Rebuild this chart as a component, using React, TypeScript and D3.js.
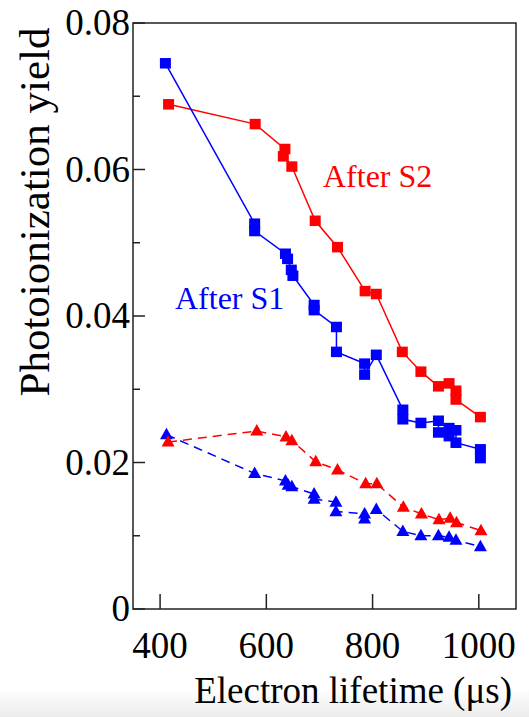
import React from "react";
import * as d3 from "d3";

// ---- data ----
const s1SquareX = [410, 578, 578, 636, 640, 647, 650, 690, 690, 732, 732, 785, 785, 807, 857, 857, 891, 924, 924, 944, 944, 957, 957, 1003, 1003];
const s1SquareY = [0.0745, 0.0526, 0.0516, 0.0485, 0.0478, 0.0463, 0.0455, 0.0415, 0.0408, 0.0385, 0.0351, 0.0335, 0.032, 0.0347, 0.0272, 0.0259, 0.0254, 0.0257, 0.0241, 0.0247, 0.0236, 0.0244, 0.0227, 0.0218, 0.0206];

const s2SquareX = [416, 579, 635, 632, 648, 692, 734, 786, 807, 856, 891, 924, 944, 957, 957, 1003];
const s2SquareY = [0.0689, 0.0662, 0.0628, 0.0618, 0.0604, 0.053, 0.0494, 0.0434, 0.043, 0.0351, 0.0324, 0.0304, 0.0308, 0.0298, 0.0286, 0.0262];

const s1TriX = [412, 578, 636, 641, 648, 690, 690, 731, 731, 785, 785, 807, 857, 891, 924, 944, 957, 1003];
const s1TriY = [0.0238, 0.0185, 0.0175, 0.0169, 0.0167, 0.0157, 0.015, 0.0146, 0.0133, 0.013, 0.0123, 0.0136, 0.0106, 0.01, 0.01, 0.0098, 0.0094, 0.0085];

const s2TriX = [415, 582, 637, 648, 693, 734, 787, 808, 858, 892, 925, 946, 958, 1004];
const s2TriY = [0.0228, 0.0243, 0.0235, 0.023, 0.0201, 0.019, 0.0171, 0.0171, 0.0139, 0.013, 0.0122, 0.0124, 0.0118, 0.0107];

const xTicks = [400, 600, 800, 1000];
const yTicks = [0, 0.02, 0.04, 0.06, 0.08];
const yMinorTicks = [0.01, 0.03, 0.05, 0.07];
const yTickLabels = ["0", "0.02", "0.04", "0.06", "0.08"];

const xTitle = "Electron lifetime (\u03bcs)";
const yTitle = "Photoionization yield";
const labelS2 = "After S2";
const labelS1 = "After S1";

const RED = "#ff0000";
const BLUE = "#0000ff";
const FONT = "'Liberation Serif', 'Times New Roman', serif";

export default function App() {
  const W = 529, H = 717;
  const L = 133, R = 516, T = 23, B = 609;
  const x = d3.scaleLinear().domain([349, 1070]).range([L, R]);
  const y = d3.scaleLinear().domain([0, 0.08]).range([B, T]);

  const zip = (xs: number[], ys: number[]) => xs.map((v, i) => [v, ys[i]] as [number, number]);
  const line = d3.line<[number, number]>().x(d => x(d[0])).y(d => y(d[1]));

  const series = [
    { pts: zip(s1TriX, s1TriY), color: BLUE, shape: "tri", dashed: true },
    { pts: zip(s2TriX, s2TriY), color: RED, shape: "tri", dashed: true },
    { pts: zip(s2SquareX, s2SquareY), color: RED, shape: "sq", dashed: false },
    { pts: zip(s1SquareX, s1SquareY), color: BLUE, shape: "sq", dashed: false },
  ];

  const sqW = 11, sqH = 10.5;
  const triPath = (cx: number, cy: number) => {
    const s = 13;
    const h = 11.5;
    return `M${cx},${cy - h * 0.6} L${cx + s / 2},${cy + h * 0.4} L${cx - s / 2},${cy + h * 0.4} Z`;
  };

  return (
    <svg width={W} height={H} style={{ position: "absolute", left: 0, top: 0, background: "#fff" }}>
      <rect x={0} y={0} width={W} height={H} fill="#fff" />
      <defs>
        <linearGradient id="bot" x1="0" y1="0" x2="0" y2="1">
          <stop offset="0" stopColor="#ffffff" />
          <stop offset="1" stopColor="#ececec" />
        </linearGradient>
      </defs>
      <rect x={0} y={688} width={W} height={H - 688} fill="url(#bot)" />

      {/* lines */}
      {series.map((s, i) => (
        <path key={"l" + i} d={line(s.pts) || ""} fill="none" stroke={s.color} strokeWidth={1.5}
          strokeDasharray={s.dashed ? "9,6" : undefined} />
      ))}
      {/* markers */}
      {series.map((s, i) => (
        <g key={"m" + i} fill={s.color}>
          {s.pts.map((p, j) =>
            s.shape === "sq" ? (
              <rect key={j} x={x(p[0]) - sqW / 2} y={y(p[1]) - sqH / 2} width={sqW} height={sqH} />
            ) : (
              <path key={j} d={triPath(x(p[0]), y(p[1]))} />
            )
          )}
        </g>
      ))}

      {/* frame */}
      <rect x={L} y={T} width={R - L} height={B - T} fill="none" stroke="#222" strokeWidth={1.5} />
      {/* y ticks */}
      {yTicks.map(t => (
        <line key={"yt" + t} x1={L} x2={L + 12} y1={y(t)} y2={y(t)} stroke="#222" strokeWidth={1.5} />
      ))}
      {yMinorTicks.map(t => (
        <line key={"ym" + t} x1={L} x2={L + 7} y1={y(t)} y2={y(t)} stroke="#222" strokeWidth={1.5} />
      ))}
      {/* x ticks */}
      {xTicks.map(t => (
        <line key={"xt" + t} x1={x(t)} x2={x(t)} y1={B} y2={B - 15} stroke="#222" strokeWidth={1.5} />
      ))}

      {/* tick labels */}
      <g fontFamily={FONT} fontSize={37} fill="#000">
        {yTicks.map((t, i) => (
          <text key={"yl" + t} x={L - 3} y={y(t)} dy="0.33em" textAnchor="end">{yTickLabels[i]}</text>
        ))}
        {xTicks.map(t => (
          <text key={"xl" + t} x={x(t)} y={658} textAnchor="middle">{t}</text>
        ))}
        <text x={512} y={703} textAnchor="end">{xTitle}</text>
        <text transform="translate(49,212) rotate(-90)" textAnchor="middle" fontSize={43}>{yTitle}</text>
      </g>

      <text x={323} y={187} fontFamily={FONT} fontSize={32} fill={RED}>{labelS2}</text>
      <text x={175} y={309} fontFamily={FONT} fontSize={32} fill={BLUE}>{labelS1}</text>
    </svg>
  );
}
